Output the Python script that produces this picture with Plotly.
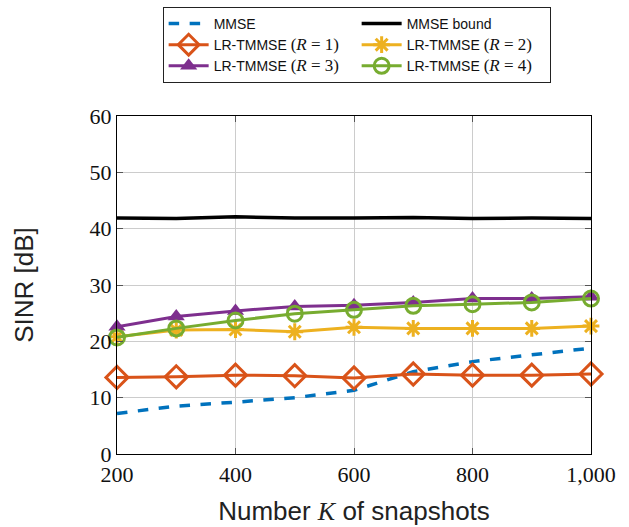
import plotly.graph_objects as go

K = [200, 300, 400, 500, 600, 700, 800, 900, 1000]
mmse = [7.2, 8.5, 9.2, 10.0, 11.3, 14.6, 16.4, 17.6, 18.8]
mmse_bound = [41.9, 41.8, 42.1, 41.9, 41.9, 42.0, 41.8, 41.9, 41.8]
r1 = [13.6, 13.7, 14.0, 13.9, 13.5, 14.2, 14.0, 14.0, 14.2]
r2 = [20.8, 22.0, 22.1, 21.7, 22.5, 22.3, 22.3, 22.3, 22.7]
r3 = [22.6, 24.4, 25.4, 26.2, 26.4, 26.9, 27.6, 27.6, 27.9]
r4 = [20.7, 22.3, 23.7, 24.9, 25.6, 26.3, 26.6, 26.9, 27.6]

x_ticks = [200, 400, 600, 800, 1000]
y_ticks = [0, 10, 20, 30, 40, 50, 60]

SERIF = "Liberation Serif"
SANS = "Liberation Sans"

def rlab(n):
    return ('LR-TMMSE <span style="font-family:%s;font-size:17px">(<i>R</i> = %d)</span>' % (SERIF, n))

fig = go.Figure()
fig.add_trace(go.Scatter(x=K, y=mmse, mode="lines", name="MMSE",
                         line=dict(color="#0072BD", width=3.5, dash="dash"), cliponaxis=False))
fig.add_trace(go.Scatter(x=K, y=mmse_bound, mode="lines", name="MMSE bound",
                         line=dict(color="black", width=3.5), cliponaxis=False))
fig.add_trace(go.Scatter(x=K, y=r1, mode="lines+markers", name=rlab(1),
                         line=dict(color="#D95319", width=3),
                         marker=dict(symbol="diamond-open", size=17, color="#D95319",
                                     line=dict(width=3, color="#D95319")), cliponaxis=False))
fig.add_trace(go.Scatter(x=K, y=r2, mode="lines+markers", name=rlab(2),
                         line=dict(color="#EDB120", width=3),
                         marker=dict(symbol="asterisk-open", size=14, color="#EDB120",
                                     line=dict(width=3, color="#EDB120")), cliponaxis=False))
fig.add_trace(go.Scatter(x=K, y=r3, mode="lines+markers", name=rlab(3),
                         line=dict(color="#7E2F8E", width=3),
                         marker=dict(symbol="triangle-up", size=15, color="#7E2F8E",
                                     line=dict(width=0)), cliponaxis=False))
fig.add_trace(go.Scatter(x=K, y=r4, mode="lines+markers", name=rlab(4),
                         line=dict(color="#77AC30", width=3),
                         marker=dict(symbol="circle-open", size=15, color="#77AC30",
                                     line=dict(width=3, color="#77AC30")), cliponaxis=False))

fig.update_layout(
    width=629, height=527,
    margin=dict(l=117, r=38, t=116, b=73, autoexpand=False),
    paper_bgcolor="white", plot_bgcolor="white",
    showlegend=True,
    legend=dict(orientation="h", x=0.567, xref="container", xanchor="center",
                y=0.987, yref="container", yanchor="top",
                entrywidth=138, bordercolor="#222", borderwidth=1,
                font=dict(family=SANS, size=14, color="#111"),
                tracegroupgap=0, itemwidth=40),
    xaxis=dict(range=[200, 1000], tickvals=x_ticks, tickformat=",d", automargin=False,
               showgrid=True, gridcolor="#cccccc", gridwidth=1,
               ticks="inside", ticklen=6, tickcolor="#555", mirror="ticks",
               showline=True, linecolor="black", linewidth=1.2, zeroline=False,
               tickfont=dict(family=SERIF, size=22, color="#111"),
               title=dict(text='Number <span style="font-family:%s"><i>K</i></span> of snapshots' % SERIF,
                          font=dict(family=SANS, size=26, color="#222"), standoff=16)),
    yaxis=dict(range=[0, 60], tickvals=y_ticks, automargin=False,
               showgrid=True, gridcolor="#cccccc", gridwidth=1,
               ticks="inside", ticklen=6, tickcolor="#555", mirror="ticks",
               showline=True, linecolor="black", linewidth=1.2, zeroline=False,
               tickfont=dict(family=SERIF, size=22, color="#111"),
               title=dict(text="SINR [dB]", font=dict(family=SANS, size=26, color="#222"), standoff=48)),
)

fig.write_html("out.html")
